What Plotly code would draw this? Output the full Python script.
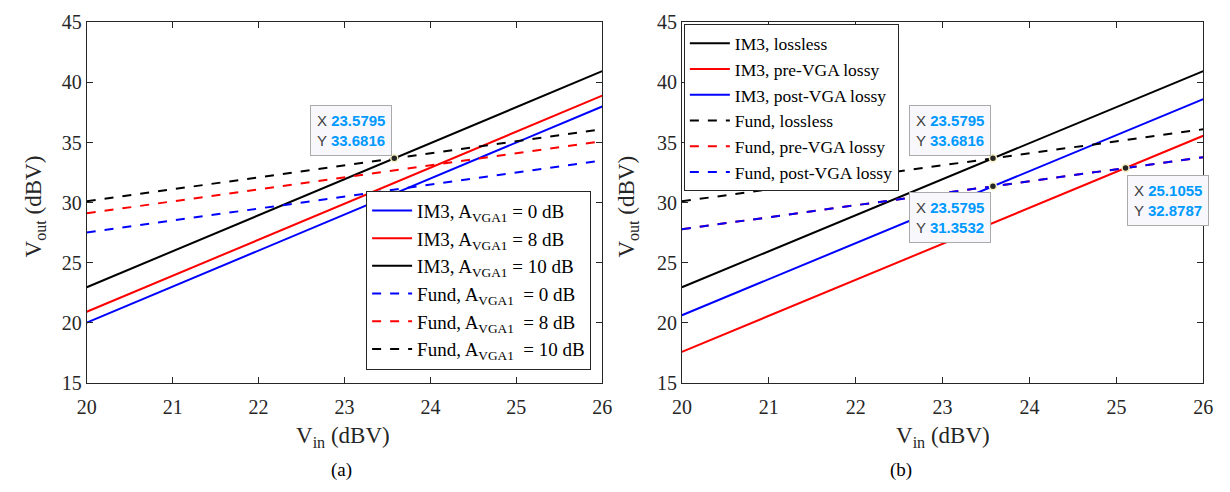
import plotly.graph_objects as go

W, H = 1230, 492

# ---------------- data ----------------
vin = [20, 26]

# panel (a)
a_im3_0 = [20.0, 38.0]
a_im3_8 = [20.9, 38.9]
a_im3_10 = [22.943, 40.943]
a_fund_0 = [27.5, 33.5]
a_fund_8 = [29.1, 35.1]
a_fund_10 = [30.102, 36.102]

# panel (b)
b_im3_lossless = [22.943, 40.943]
b_im3_pre = [17.562, 35.562]
b_im3_post = [20.615, 38.615]
b_fund_lossless = [30.102, 36.102]
b_fund_pre = [27.774, 33.774]
b_fund_post = [27.774, 33.774]

tips_a_x = [23.5795]
tips_a_y = [33.6816]
tips_b_x = [23.5795, 23.5795, 25.1055]
tips_b_y = [33.6816, 31.3532, 32.8787]

x_ticks = [20, 21, 22, 23, 24, 25, 26]
y_ticks = [15, 20, 25, 30, 35, 40, 45]

BLUE = "#0000ff"
RED = "#ff0000"
BLACK = "#000000"
SERIF = "Liberation Serif, Times New Roman, serif"
SANS = "Liberation Sans, Arial, sans-serif"

fig = go.Figure()

def add_line(x, y, color, dash, name, xa, ya, legend):
    fig.add_trace(go.Scatter(
        x=x, y=y, mode="lines", name=name,
        line=dict(color=color, width=2, dash=dash),
        xaxis=xa, yaxis=ya, legend=legend, hoverinfo="skip"))

sub = "A<sub>VGA1</sub>"
add_line(vin, a_im3_0, BLUE, "solid", f"IM3, {sub} = 0 dB", "x", "y", "legend")
add_line(vin, a_im3_8, RED, "solid", f"IM3, {sub} = 8 dB", "x", "y", "legend")
add_line(vin, a_im3_10, BLACK, "solid", f"IM3, {sub} = 10 dB", "x", "y", "legend")
add_line(vin, a_fund_0, BLUE, "dash", f"Fund, {sub}  = 0 dB", "x", "y", "legend")
add_line(vin, a_fund_8, RED, "dash", f"Fund, {sub}  = 8 dB", "x", "y", "legend")
add_line(vin, a_fund_10, BLACK, "dash", f"Fund, {sub}  = 10 dB", "x", "y", "legend")

add_line(vin, b_im3_lossless, BLACK, "solid", "IM3, lossless", "x2", "y2", "legend2")
add_line(vin, b_im3_pre, RED, "solid", "IM3, pre-VGA lossy", "x2", "y2", "legend2")
add_line(vin, b_im3_post, BLUE, "solid", "IM3, post-VGA lossy", "x2", "y2", "legend2")
add_line(vin, b_fund_lossless, BLACK, "dash", "Fund, lossless", "x2", "y2", "legend2")
add_line(vin, b_fund_pre, RED, "dash", "Fund, pre-VGA lossy", "x2", "y2", "legend2")
add_line(vin, b_fund_post, BLUE, "dash", "Fund, post-VGA lossy", "x2", "y2", "legend2")

# datatip markers
for xs, ys, xa, ya in [(tips_a_x, tips_a_y, "x", "y"), (tips_b_x, tips_b_y, "x2", "y2")]:
    fig.add_trace(go.Scatter(
        x=xs, y=ys, mode="markers", showlegend=False, xaxis=xa, yaxis=ya,
        marker=dict(size=7, color="#262626", line=dict(color="#f5f0c0", width=1.5)),
        hoverinfo="skip"))

# ---------------- layout ----------------
def px_x(p):
    return p / W

def px_y(p):
    return 1 - p / H

axis_common = dict(
    showgrid=False, zeroline=False, showline=True, linecolor="#262626", linewidth=1,
    mirror="allticks", ticks="inside", ticklen=6, tickcolor="#262626",
    tickfont=dict(family=SERIF, size=20, color="#262626"),
)

dom_y = [px_y(389), px_y(12)]
fig.update_layout(
    width=W, height=H, margin=dict(l=0, r=0, t=0, b=0),
    paper_bgcolor="white", plot_bgcolor="white",
    xaxis=dict(domain=[px_x(78), px_x(602)], range=[20, 26], tickvals=x_ticks,
               anchor="y", ticklabelstandoff=6, **axis_common),
    yaxis=dict(domain=dom_y, range=[15, 45], tickvals=y_ticks, anchor="x", **axis_common),
    xaxis2=dict(domain=[px_x(683), px_x(1213)], range=[20, 26], tickvals=x_ticks,
                anchor="y2", ticklabelstandoff=6, **axis_common),
    yaxis2=dict(domain=dom_y, range=[15, 45], tickvals=y_ticks, anchor="x2", **axis_common),
    legend=dict(x=px_x(362), y=px_y(188), xanchor="left", yanchor="top",
                bgcolor="white", bordercolor="#262626", borderwidth=1,
                font=dict(family=SERIF, size=19, color="black"),
                tracegroupgap=0, itemwidth=40),
    legend2=dict(x=px_x(685), y=px_y(14), xanchor="left", yanchor="top",
                 bgcolor="white", bordercolor="#262626", borderwidth=1,
                 font=dict(family=SERIF, size=17.5, color="black"),
                 tracegroupgap=0, itemwidth=40),
    showlegend=True,
)

annotations = []
# axis titles and captions
for cx, cap, capx in [(338, "(a)", 337), (948, "(b)", 906)]:
    annotations.append(dict(x=px_x(cx), y=px_y(446), xref="paper", yref="paper",
                            xanchor="center", yanchor="middle",
                            text="V<sub>in</sub> (dBV)", showarrow=False,
                            font=dict(family=SERIF, size=23, color="#262626")))
    annotations.append(dict(x=px_x(capx), y=px_y(481), xref="paper", yref="paper",
                            xanchor="center", yanchor="middle",
                            text=cap, showarrow=False,
                            font=dict(family=SERIF, size=19, color="black")))
for cx in [25, 628]:
    annotations.append(dict(x=px_x(cx), y=px_y(205), xref="paper", yref="paper",
                            xanchor="center", yanchor="middle",
                            text="V<sub>out</sub> (dBV)", showarrow=False, textangle=-90,
                            font=dict(family=SERIF, size=23, color="#262626")))

def tip(x, y, xa, ya, xanchor, yanchor, xs, ys):
    txt = (f"X <b><span style='color:#0099ff'>{x:.4f}</span></b><br>"
           f"Y <b><span style='color:#0099ff'>{y:.4f}</span></b>")
    return dict(x=x, y=y, xref=xa, yref=ya, text=txt, showarrow=False,
                xanchor=xanchor, yanchor=yanchor, xshift=xs, yshift=ys, align="left",
                bgcolor="#f8f8fc", bordercolor="#aaaaaa", borderwidth=1, borderpad=6,
                font=dict(family=SANS, size=15, color="#404040"))

annotations.append(tip(tips_a_x[0], tips_a_y[0], "x", "y", "right", "bottom", -2, 2))
annotations.append(tip(tips_b_x[0], tips_b_y[0], "x2", "y2", "right", "bottom", -2, 2))
annotations.append(tip(tips_b_x[1], tips_b_y[1], "x2", "y2", "right", "top", -2, -6))
annotations.append(tip(tips_b_x[2], tips_b_y[2], "x2", "y2", "left", "top", 1, -7))

fig.update_layout(annotations=annotations)

fig.write_html("out.html")
